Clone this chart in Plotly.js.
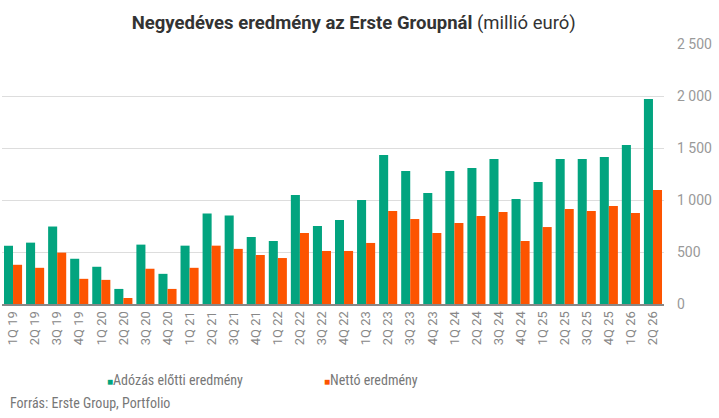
<!DOCTYPE html>
<html>
<head>
<meta charset="utf-8">
<script src="https://cdn.plot.ly/plotly-3.0.1.min.js"></script>
<style>html,body{margin:0;padding:0;background:#fff;}#chart{width:719px;height:418px;}</style>
</head>
<body>
<div id="chart"></div>
<script>
const categories = ["1Q 19","2Q 19","3Q 19","4Q 19","1Q 20","2Q 20","3Q 20","4Q 20","1Q 21","2Q 21","3Q 21","4Q 21","1Q 22","2Q 22","3Q 22","4Q 22","1Q 23","2Q 23","3Q 23","4Q 23","1Q 24","2Q 24","3Q 24","4Q 24","1Q 25","2Q 25","3Q 25","4Q 25","1Q 26","2Q 26"];
const preTax = [560,590,745,435,358,145,571,290,561,871,850,644,606,1048,750,808,1000,1433,1279,1067,1279,1308,1394,1010,1173,1394,1394,1413,1529,1971];
const netResult = [377,348,494,242,232,58,339,145,348,561,530,471,442,683,510,510,587,894,817,683,779,846,885,606,740,913,894,942,875,1096];
const yTickVals = [0,500,1000,1500,2000,2500];
const yTickText = ["0","500","1 000","1 500","2 000","2 500"];
const seriesNames = ["Adózás előtti eredmény","Nettó eredmény"];
const colors = ["#02a47f","#fd5400"];

const traces = [
  {type:'bar', x:categories, y:preTax, name:seriesNames[0], marker:{color:colors[0]}, showlegend:false},
  {type:'bar', x:categories, y:netResult, name:seriesNames[1], marker:{color:colors[1]}, showlegend:false}
];

const narrow = '"Liberation Sans Narrow", "Roboto Condensed", sans-serif';
const legendPos = [0.1556, 0.4834];

const layout = {
  width:719, height:418,
  margin:{l:2, r:55, t:44, b:114},
  paper_bgcolor:'#fff', plot_bgcolor:'#fff',
  barmode:'group', bargap:0.18, bargroupgap:0,
  font:{family:'Roboto, sans-serif', color:'#888'},
  title:{text:'<b>Negyedéves eredmény az Erste Groupnál</b> (millió euró)', font:{family:'Roboto, sans-serif', size:18.5, color:'#333'}, x:0.492, xref:'container', xanchor:'center', y:0.947, yref:'container', yanchor:'middle'},
  xaxis:{type:'category', categoryorder:'array', categoryarray:categories, tickangle:-90, tickfont:{family:'Roboto, sans-serif', size:13, color:'#888'}, showline:true, linecolor:'#888', linewidth:2, showgrid:false, ticks:'', fixedrange:true},
  yaxis:{side:'right', range:[0,2500], tickvals:yTickVals, ticktext:yTickText, tickfont:{family:'Roboto, sans-serif', size:14, color:'#999'}, gridcolor:'#dddddd', gridwidth:1, zeroline:false, showline:false, ticks:'', ticklabelstandoff:12, fixedrange:true},
  showlegend:false,
  annotations:[
    {text:'<span style="color:'+colors[0]+';font-size:10px">■</span>'+seriesNames[0], xref:'paper', yref:'paper', x:legendPos[0], y:-0.292, xanchor:'left', yanchor:'middle', showarrow:false, font:{family:narrow, size:14, color:'#777'}},
    {text:'<span style="color:'+colors[1]+';font-size:10px">■</span>'+seriesNames[1], xref:'paper', yref:'paper', x:legendPos[1], y:-0.292, xanchor:'left', yanchor:'middle', showarrow:false, font:{family:narrow, size:14, color:'#777'}},
    {text:'Forrás: Erste Group, Portfolio', xref:'paper', yref:'paper', x:0.009, y:-0.381, xanchor:'left', yanchor:'middle', showarrow:false, font:{family:narrow, size:14, color:'#777'}}
  ]
};

Plotly.newPlot('chart', traces, layout, {displayModeBar:false, staticPlot:true});
</script>
</body>
</html>
